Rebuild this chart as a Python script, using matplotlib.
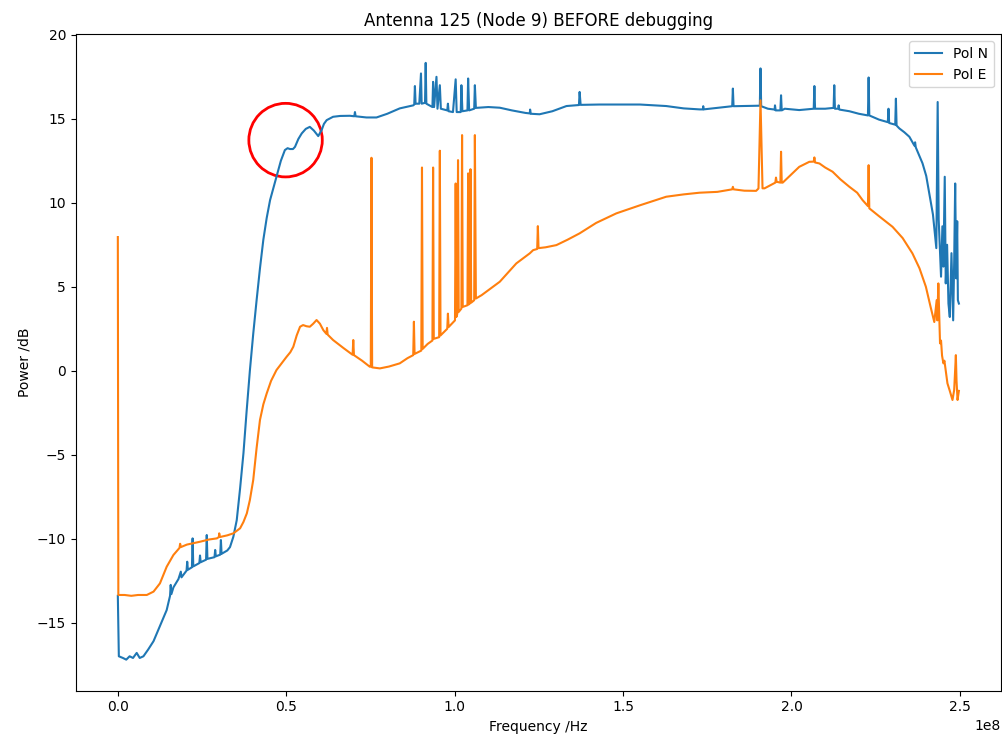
import numpy as np
import matplotlib
matplotlib.use('Agg')
import matplotlib.pyplot as plt
from matplotlib.patches import Ellipse

# frequency in MHz, power in dB
freq_n = [0, 0.3, 1.5, 2.5, 3.5, 4.5, 5.6, 6.5, 7.6, 9.0, 10.6, 12.5, 14.5, 15.5, 15.7, 15.9,
          16.5, 18.0, 18.7, 18.9, 20.4, 20.6, 20.8, 22.0, 22.2, 22.4, 24.2, 24.4, 24.6, 26.2,
          26.4, 26.6, 28.7, 28.9, 29.1, 30.4, 30.6, 30.8, 32.5, 33.3, 34.3, 35.3, 36.3, 37.3,
          38.2, 39.2, 40.2, 41.2, 42.2, 43.2, 44.2, 45.2, 46.2, 47.1, 48.4, 49.6, 50.4, 51.1,
          52.0, 52.6, 53.6, 54.6, 55.8, 57.0, 58.2, 59.5, 60.5, 61.2, 62.0, 63.9, 66.0, 68.9,
          70.2, 70.4, 70.6, 73.8, 76.8, 80.0, 83.7, 87.7, 88.0, 88.2, 88.4, 89.5, 90.0, 90.2,
          91.2, 91.4, 91.6, 92.5, 93.4, 93.6, 93.9, 94.6, 94.9, 95.6, 95.9, 97.8, 98.0, 98.2,
          99.5, 100.3, 100.6, 101.8, 102.0, 102.3, 103.8, 104.0, 104.3, 105.8, 106.0, 106.3,
          110, 113.4, 117, 121, 122.3, 122.4, 122.6, 125.2, 129, 133.2, 136.9, 137.1, 137.4,
          143, 155, 162.8, 168, 172.7, 173.7, 173.8, 173.9, 178, 182.4, 182.6, 182.8, 188,
          190.6, 190.8, 191.0, 193, 195.0, 195.1, 195.3, 196.7, 196.9, 197.1, 198, 202.3,
          206.6, 206.8, 207.0, 210, 212.5, 212.7, 212.9, 213.9, 214.0, 214.2, 217.2, 220,
          222.7, 222.9, 223.1, 226, 228.6, 228.8, 229.0, 230.8, 231.0, 231.2, 232, 233.5, 235,
          236.5, 236.7, 236.9, 238.9, 240.0, 240.9, 242.0, 242.7, 243.0, 243.4, 243.7, 244.0,
          244.4, 244.8, 245.1, 245.5, 245.8, 246.2, 246.6, 247.0, 247.5, 247.8, 248.0, 248.3,
          248.6, 248.9, 249.2, 249.4, 249.7]
pow_n = [-13.4, -17.0, -17.1, -17.2, -17.0, -17.1, -16.8, -17.1, -17.0, -16.6, -16.1, -15.2,
         -14.25, -13.4, -12.75, -13.3, -12.9, -12.4, -11.96, -12.3, -11.9, -11.37, -11.85,
         -11.7, -9.98, -11.65, -11.45, -11.0, -11.4, -11.25, -9.78, -11.2, -11.1, -10.67,
         -11.05, -10.95, -10.08, -10.9, -10.7, -10.5, -9.88, -8.9, -7.0, -4.9, -2.5, 0.0, 2.2,
         4.2, 6.1, 7.8, 9.1, 10.16, 10.9, 11.55, 12.5, 13.14, 13.25, 13.2, 13.2, 13.33, 13.8,
         14.13, 14.4, 14.52, 14.3, 13.97, 14.33, 14.7, 14.92, 15.12, 15.17, 15.18, 15.15, 15.4,
         15.15, 15.08, 15.08, 15.3, 15.62, 15.8, 15.85, 16.95, 15.9, 15.9, 17.7, 15.9, 15.95,
         18.33, 15.9, 15.8, 15.7, 17.2, 15.7, 17.5, 15.6, 17.0, 15.6, 15.5, 15.9, 15.45, 15.4,
         17.35, 15.4, 15.4, 17.0, 15.45, 15.5, 17.4, 15.5, 15.6, 17.0, 15.65, 15.7, 15.66,
         15.5, 15.35, 15.32, 15.55, 15.3, 15.27, 15.45, 15.76, 15.82, 16.6, 15.83, 15.85,
         15.85, 15.76, 15.62, 15.56, 15.56, 15.75, 15.56, 15.65, 15.75, 16.8, 15.75, 15.77,
         15.78, 18.0, 15.75, 15.6, 15.55, 15.8, 15.5, 15.5, 16.4, 15.5, 15.6, 15.52, 15.6,
         16.95, 15.6, 15.6, 15.65, 17.0, 15.6, 15.6, 15.8, 15.55, 15.45, 15.3, 15.2, 17.46,
         15.2, 14.95, 14.8, 15.6, 14.75, 14.65, 16.2, 14.6, 14.43, 14.2, 13.93, 13.4, 13.6,
         13.3, 12.35, 11.6, 10.56, 9.3, 7.88, 7.3, 16.0, 9.0, 7.6, 5.6, 8.6, 6.2, 11.55, 5.2,
         7.5, 4.0, 3.2, 7.0, 4.5, 3.0, 6.5, 11.15, 5.5, 8.9, 4.2, 4.0]

freq_e = [0, 0.15, 2, 4, 6, 8.6, 10.6, 12.5, 14.5, 16.5, 18.3, 18.5, 18.7, 20.5, 24.4, 27, 29.4,
          30.0, 30.1, 30.3, 32.5, 34.3, 36.3, 37.3, 38.3, 39.2, 40.2, 41.2, 42.2, 43.2, 44.2,
          45.5, 47.1, 50.1, 51.2, 52.1, 53.1, 54.1, 55, 56, 57.0, 58.0, 59.0, 60.0, 61.0, 61.9,
          62.1, 62.3, 63.9, 67, 69.7, 69.9, 70.1, 72.5, 74.8, 75.1, 75.3, 75.5, 77.8, 80.5,
          83.7, 86, 87.7, 87.9, 88.1, 90.1, 90.3, 90.5, 92.0, 93.4, 93.6, 93.8, 95.4, 95.6,
          95.8, 97.8, 98.0, 98.2, 100.1, 100.3, 100.5, 100.8, 101.0, 101.2, 102.0, 102.2, 102.4,
          103.8, 104.0, 104.2, 104.5, 104.7, 104.9, 105.8, 106.0, 106.3, 108, 113.4, 118.3,
          122.3, 123.3, 124.5, 124.7, 124.9, 127, 130.2, 133.5, 137.1, 142, 148, 155, 162.8,
          168, 172.7, 178, 182.4, 182.6, 182.8, 186, 189.5, 190.2, 190.8, 191.4, 192.0, 195.2,
          195.4, 195.6, 196.7, 196.9, 197.1, 197.4, 199.5, 202.3, 205.3, 206.6, 206.8, 207.0,
          208.3, 210, 212.2, 214.5, 217.2, 219.5, 221.1, 222.7, 222.9, 223.1, 226, 230, 233,
          235.9, 238, 239.9, 241.3, 242.4, 243.1, 243.3, 243.6, 244.1, 244.4, 244.7, 245.1,
          245.4, 246.3, 247.0, 247.8, 248.3, 248.8, 249.0, 249.3, 249.7]
pow_e = [7.96, -13.35, -13.35, -13.4, -13.35, -13.35, -13.15, -12.66, -11.67, -10.97, -10.55,
         -10.3, -10.5, -10.35, -10.18, -10.05, -9.98, -9.9, -9.68, -9.9, -9.8, -9.68, -9.38,
         -9.0, -8.49, -7.7, -6.5, -4.6, -2.93, -2.0, -1.35, -0.6, 0.04, 0.83, 1.1, 1.43, 2.1,
         2.62, 2.72, 2.65, 2.62, 2.8, 3.02, 2.8, 2.42, 2.2, 2.55, 2.15, 1.83, 1.35, 0.95, 1.83,
         0.93, 0.6, 0.24, 0.24, 12.68, 0.2, 0.14, 0.25, 0.44, 0.75, 0.93, 2.92, 1.0, 1.2, 12.1,
         1.3, 1.6, 1.8, 12.1, 1.9, 2.0, 13.1, 2.1, 2.5, 3.4, 2.6, 3.0, 11.15, 3.2, 3.4, 12.54,
         3.5, 3.7, 14.03, 3.8, 3.9, 11.75, 3.95, 4.0, 12.0, 4.05, 4.2, 14.03, 4.3, 4.5, 5.3,
         6.39, 6.99, 7.18, 7.25, 8.61, 7.3, 7.35, 7.48, 7.8, 8.18, 8.8, 9.37, 9.85, 10.36, 10.5,
         10.6, 10.65, 10.8, 10.95, 10.8, 10.72, 10.71, 10.85, 16.1, 10.86, 10.86, 11.2, 11.5,
         11.25, 11.2, 13.04, 11.2, 11.2, 11.6, 12.14, 12.44, 12.45, 12.7, 12.4, 12.34, 12.1,
         11.85, 11.4, 10.95, 10.6, 10.16, 9.8, 12.24, 9.67, 9.2, 8.57, 7.9, 6.99, 6.1, 5.0,
         3.8, 2.9, 4.2, 3.0, 5.2, 1.63, 1.8, 0.9, 0.44, 0.6, -0.75, -1.2, -1.74, -1.15, 0.93,
         -0.6, -1.74, -1.2]

fig = plt.figure(figsize=(10.03, 7.40), dpi=100)
ax = fig.add_axes([0.0755, 0.0666, 0.9225, 0.8868])

ax.plot(np.array(freq_n) * 1e6, pow_n, color='#1f77b4', linewidth=1.5, label='Pol N')
ax.plot(np.array(freq_e) * 1e6, pow_e, color='#ff7f0e', linewidth=1.5, label='Pol E')

# red circle marking the bump around 50 MHz
ax.add_patch(Ellipse((49.8e6, 13.73), 21.8e6, 4.38, fill=False, edgecolor='red', linewidth=2.0))

ax.set_xlim(-0.125e8, 2.622e8)
ax.set_ylim(-19.05, 20.02)
ax.set_title('Antenna 125 (Node 9) BEFORE debugging')
ax.set_xlabel('Frequency /Hz')
ax.set_ylabel('Power /dB')
ax.legend(loc='upper right')

fig.savefig('out.png', dpi=100)
